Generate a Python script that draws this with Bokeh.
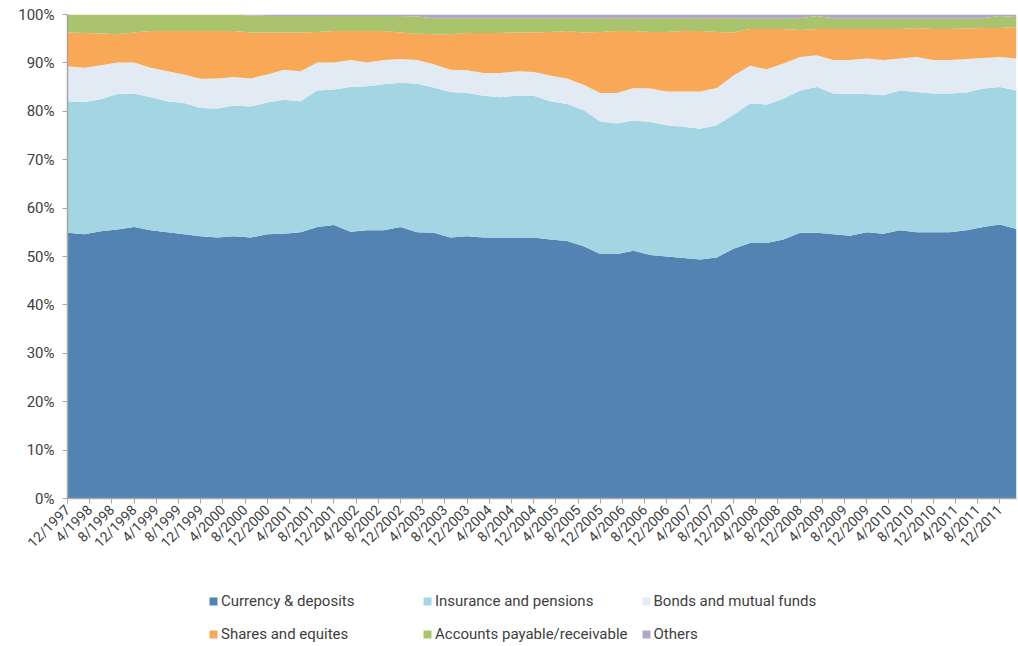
import math
from bokeh.plotting import figure
from bokeh.layouts import column
from bokeh.models import (ColumnDataSource, Range1d, FixedTicker, PrintfTickFormatter,
                          Legend, LegendItem)
from bokeh.embed import file_html
from bokeh.resources import INLINE

# Quarterly observations, 12/1997 .. 3/2012 (x = months since 12/1997)
n_quarters = 58
months = [3 * i for i in range(n_quarters)]

currency = [54.9, 54.6, 55.2, 55.6, 56.1, 55.4, 55.0, 54.6, 54.2, 53.9, 54.2,
            53.9, 54.6, 54.7, 55.0, 56.1, 56.5, 55.1, 55.4, 55.4, 56.1,
            55.0, 54.9, 53.9, 54.2, 53.9, 53.9, 53.9, 53.9, 53.5, 53.2,
            52.1, 50.5, 50.5, 51.2, 50.3, 50.0, 49.7, 49.4, 49.8, 51.6,
            52.8, 52.8, 53.5, 54.9, 54.9, 54.6, 54.3, 55.0, 54.7, 55.4,
            55.0, 55.0, 55.0, 55.4, 56.1, 56.6, 55.7]
insurance = [27.2, 27.3, 27.3, 28.0, 27.6, 27.5, 27.1, 27.1, 26.5, 26.7, 27.0,
             27.1, 27.2, 27.7, 27.1, 28.2, 28.0, 29.9, 29.8, 30.2, 29.8,
             30.7, 30.0, 30.1, 29.6, 29.3, 29.0, 29.3, 29.3, 28.6, 28.3,
             28.1, 27.4, 27.0, 26.9, 27.5, 27.1, 27.1, 27.0, 27.3, 27.7,
             28.8, 28.6, 29.1, 29.4, 30.1, 29.1, 29.3, 28.6, 28.6, 28.9,
             29.0, 28.7, 28.7, 28.5, 28.6, 28.4, 28.6]
bonds = [7.2, 7.1, 7.0, 6.5, 6.4, 6.1, 6.2, 5.9, 6.0, 6.2, 5.9,
         5.8, 5.8, 6.2, 6.2, 5.8, 5.6, 5.6, 4.9, 5.0, 4.9,
         4.9, 4.8, 4.6, 4.7, 4.7, 5.0, 5.1, 4.9, 5.3, 5.3,
         5.3, 5.9, 6.3, 6.7, 6.9, 7.0, 7.3, 7.7, 7.7, 8.1,
         7.8, 7.3, 7.3, 6.9, 6.6, 6.9, 7.0, 7.3, 7.3, 6.6,
         7.2, 6.9, 6.9, 6.9, 6.3, 6.2, 6.6]
shares = [7.0, 7.2, 6.6, 5.8, 6.2, 7.6, 8.3, 9.0, 9.9, 9.8, 9.5,
          9.5, 8.7, 7.7, 8.0, 6.3, 6.5, 6.0, 6.5, 6.0, 5.5,
          5.4, 6.2, 7.3, 7.7, 8.3, 8.3, 8.0, 8.2, 9.0, 9.8,
          10.8, 12.6, 12.8, 11.8, 11.7, 12.3, 12.5, 12.5, 11.6, 8.9,
          7.6, 8.3, 7.1, 5.6, 5.4, 6.4, 6.4, 6.1, 6.4, 6.1,
          6.0, 6.4, 6.4, 6.3, 6.2, 6.0, 6.5]
accounts = [3.7, 3.8, 3.9, 4.1, 3.7, 3.4, 3.4, 3.4, 3.4, 3.4, 3.4,
            3.5, 3.4, 3.4, 3.4, 3.3, 3.1, 3.1, 3.1, 3.1, 3.4,
            3.6, 3.3, 3.3, 3.0, 3.0, 3.0, 2.9, 2.9, 2.8, 2.6,
            2.9, 2.8, 2.6, 2.6, 2.8, 2.8, 2.6, 2.6, 2.8, 2.9,
            2.2, 2.2, 2.2, 2.4, 2.7, 2.2, 2.2, 2.2, 2.2, 2.2,
            2.0, 2.2, 2.2, 2.1, 2.0, 2.5, 2.1]
others = [0.0, 0.0, 0.0, 0.0, 0.0, 0.0, 0.0, 0.0, 0.0, 0.0, 0.0,
          0.2, 0.3, 0.3, 0.3, 0.3, 0.3, 0.3, 0.3, 0.3, 0.3,
          0.4, 0.8, 0.8, 0.8, 0.8, 0.8, 0.8, 0.8, 0.8, 0.8,
          0.8, 0.8, 0.8, 0.8, 0.8, 0.8, 0.8, 0.8, 0.8, 0.8,
          0.8, 0.8, 0.8, 0.8, 0.3, 0.8, 0.8, 0.8, 0.8, 0.8,
          0.8, 0.8, 0.8, 0.8, 0.8, 0.3, 0.5]

series_names = ["Currency & deposits", "Insurance and pensions", "Bonds and mutual funds",
                "Shares and equites", "Accounts payable/receivable", "Others"]
series_keys = ["currency", "insurance", "bonds", "shares", "accounts", "others"]
colors = ["#5383B3", "#A3D5E3", "#E2EAF3", "#F9A857", "#A9C46C", "#B3A7C7"]

tick_labels = ["12/1997", "4/1998", "8/1998", "12/1998", "4/1999", "8/1999", "12/1999",
               "4/2000", "8/2000", "12/2000", "4/2001", "8/2001", "12/2001",
               "4/2002", "8/2002", "12/2002", "4/2003", "8/2003", "12/2003",
               "4/2004", "8/2004", "12/2004", "4/2005", "8/2005", "12/2005",
               "4/2006", "8/2006", "12/2006", "4/2007", "8/2007", "12/2007",
               "4/2008", "8/2008", "12/2008", "4/2009", "8/2009", "12/2009",
               "4/2010", "8/2010", "12/2010", "4/2011", "8/2011", "12/2011"]
tick_pos = [4 * k for k in range(len(tick_labels))]

src = ColumnDataSource(dict(x=months, currency=currency, insurance=insurance, bonds=bonds,
                            shares=shares, accounts=accounts, others=others))

FONT = "Roboto"
TXT = "#404040"
AX = "#A6A6A6"

p = figure(width=1018, height=560, output_backend="svg", toolbar_location=None,
           x_range=Range1d(0, months[-1]), y_range=Range1d(0, 100),
           min_border_left=67, min_border_right=2, min_border_top=14, min_border_bottom=62,
           outline_line_color=None)
p.xgrid.visible = False
p.ygrid.visible = False

rs = p.varea_stack(stackers=series_keys, x="x", color=colors, source=src)

p.yaxis.ticker = FixedTicker(ticks=list(range(0, 101, 10)))
p.yaxis.formatter = PrintfTickFormatter(format="%d%%")
p.xaxis.ticker = FixedTicker(ticks=tick_pos)
p.xaxis.major_label_overrides = {t: l for t, l in zip(tick_pos, tick_labels)}
p.xaxis.major_label_orientation = math.pi / 4

for ax in (p.xaxis[0], p.yaxis[0]):
    ax.axis_line_color = AX
    ax.axis_line_width = 1.5
    ax.major_tick_line_color = AX
    ax.major_tick_in = 0
    ax.major_tick_out = 5
    ax.minor_tick_line_color = None
    ax.major_label_text_font = FONT
    ax.major_label_text_color = TXT
p.yaxis.major_label_text_font_size = "15px"
p.yaxis.major_label_standoff = 8
p.xaxis.major_label_text_font_size = "14px"
p.xaxis.major_label_standoff = 4

# Legend strip below the chart (its areas lie outside its visible range)
lg = figure(width=1018, height=86, output_backend="svg", toolbar_location=None,
            x_range=Range1d(0, months[-1]), y_range=Range1d(-2, -1),
            min_border_left=0, min_border_right=0, min_border_top=0, min_border_bottom=0,
            outline_line_color=None)
lg.axis.visible = False
lg.grid.visible = False
lrs = lg.varea_stack(stackers=series_keys, x="x", color=colors, source=src)

legend = Legend(items=[LegendItem(label=n, renderers=[r]) for n, r in zip(series_names, lrs)],
                orientation="horizontal", ncols=3, location=(141, 2),
                glyph_width=10, glyph_height=10, label_standoff=3,
                label_width=188, label_height=20, spacing=13,
                label_text_font=FONT, label_text_font_size="15px", label_text_color=TXT,
                border_line_color=None, background_fill_alpha=0, padding=0, margin=0)
lg.add_layout(legend, "center")

open("out.html", "w").write(file_html(column(p, lg, spacing=0), INLINE))
